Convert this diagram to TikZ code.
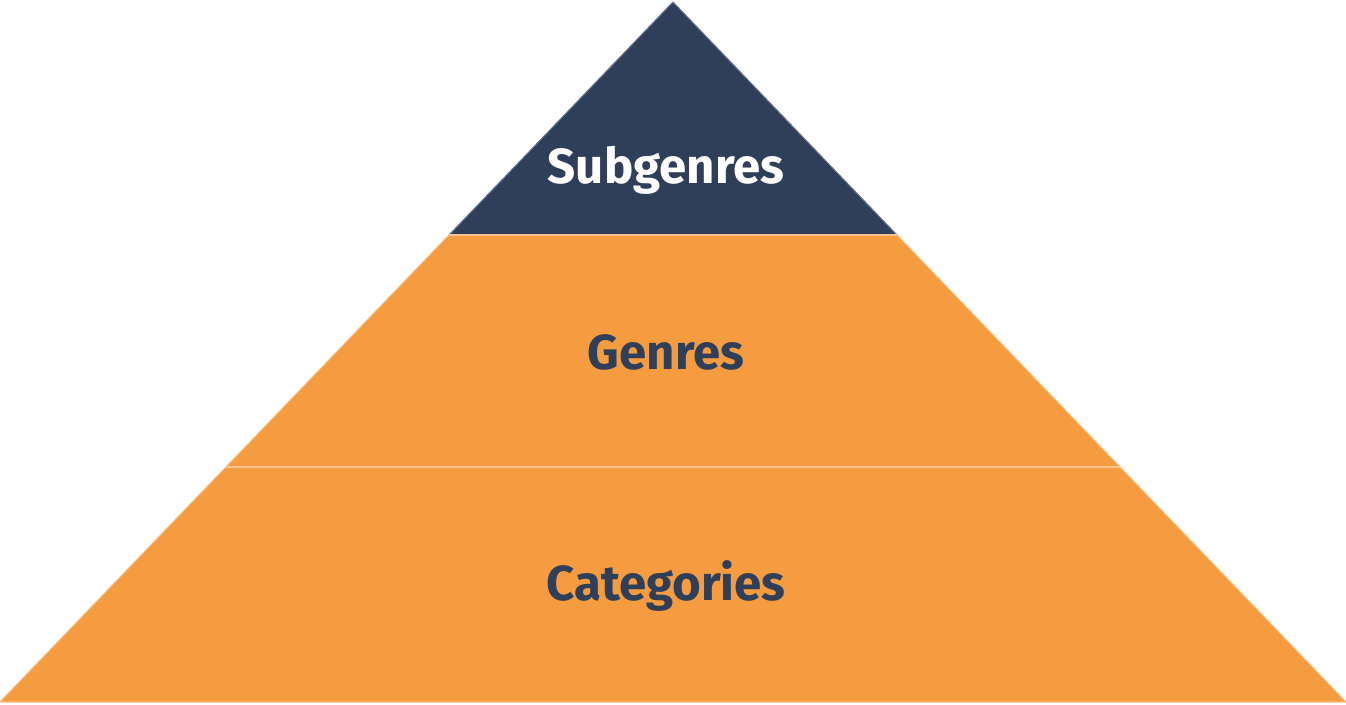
\documentclass[tikz,border=0pt]{standalone}
\usepackage{fontspec}
\setmainfont{Fira Sans}
\usepackage{tikz}
\usetikzlibrary{calc}
\definecolor{topclr}{RGB}{47,63,90}
\definecolor{topedge}{RGB}{106,118,144}
\definecolor{baseclr}{RGB}{245,155,64}
\definecolor{baseedge}{RGB}{249,186,120}
\definecolor{sepclr}{RGB}{250,196,140}
\tikzset{
  tierlabel/.style={font=\fontsize{28}{32}\selectfont\bfseries,inner sep=0pt},
  toptier/.style={fill=topclr,draw=topedge,line width=0.6pt,line join=round},
  lowtier/.style={fill=baseclr,draw=baseedge,line width=0.6pt,line join=round},
  sepline/.style={draw=sepclr,line width=1.2pt},
}
\begin{document}
\begin{tikzpicture}[x=0.02cm,y=0.02cm]
\useasboundingbox (0,0) rectangle (1346,704);
% corners of the pyramid
\coordinate (apex) at (673,702);
\coordinate (bl) at (0,2);
\coordinate (br) at (1346,2);
\coordinate (ml) at (226,237);
\coordinate (mr) at (1120,237);
\coordinate (tl) at (449,469);
\coordinate (tr) at (897,469);
% tiers
\path[lowtier] (bl) -- (br) -- (mr) -- (ml) -- cycle;
\path[lowtier] (ml) -- (mr) -- (tr) -- (tl) -- cycle;
\path[toptier] (tl) -- (tr) -- (apex) -- cycle;
\draw[sepline] (ml) -- (mr);
\draw[sepline] (tl) -- (tr);
% labels
\node[tierlabel,text=white] (subg) at (666,534) {Subgenres};
\node[tierlabel,text=topclr] (gen) at (666,352) {Genres};
\node[tierlabel,text=topclr] (cat) at (666,118) {Categories};
\end{tikzpicture}
\end{document}
